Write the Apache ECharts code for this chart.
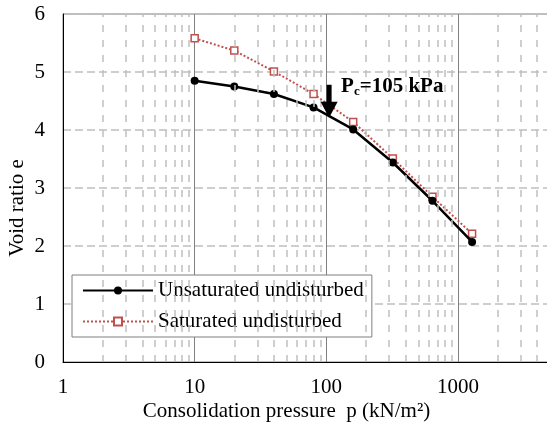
<!DOCTYPE html>
<html>
<head>
<meta charset="utf-8">
<script src="https://cdn.jsdelivr.net/npm/echarts@6/dist/echarts.min.js"></script>
<style>
  html, body { margin: 0; padding: 0; background: #fff; overflow: hidden; }
  #chart { width: 547px; height: 425px; }
</style>
</head>
<body>
<div id="chart"></div>
<script>
// Oedometer test: void ratio vs consolidation pressure (log scale)
const pressures = [10, 20, 40, 80, 160, 320, 640, 1280];
const unsaturatedE = [4.85, 4.75, 4.62, 4.39, 4.01, 3.44, 2.78, 2.07];
const saturatedE = [5.58, 5.37, 5.01, 4.62, 4.14, 3.51, 2.85, 2.21];
const seriesNames = ['Unsaturated undisturbed', 'Saturated undisturbed'];

// Preconsolidation pressure marker: pressure, arrow top e, arrow tip e
const pcValue = 105;
const pcArrow = [[pcValue, 4.78, 4.21]];

// Axis ranges
const xMin = 1, xMax = 5000;
const yMin = 0, yMax = 6, yStep = 1;

// Minor log gridlines at 2..9 within each decade
const decades = [1, 10, 100, 1000];
const minorSteps = [2, 3, 4, 5, 6, 7, 8, 9];
const minorGrid = [];
decades.forEach(d => minorSteps.forEach(m => { if (d * m < xMax) minorGrid.push(d * m); }));

const serif = "'Liberation Serif', 'Times New Roman', serif";
const red = '#c0504d';
const fs = 21;

const pairs = ys => pressures.map((p, i) => [p, ys[i]]);

const chart = echarts.init(document.getElementById('chart'));
chart.setOption({
  animation: false,
  backgroundColor: '#fff',
  grid: {
    left: 63, top: 14, right: -3, bottom: 63,
    outerBoundsMode: 'none',
    containLabel: false,
    show: true, borderColor: '#808080', borderWidth: 1
  },
  legend: {
    data: seriesNames,
    orient: 'vertical',
    left: 72, top: 275,
    backgroundColor: '#fff',
    borderColor: '#7f7f7f', borderWidth: 1,
    borderRadius: 0,
    padding: [5, 8, 5, 10],
    itemGap: 10,
    itemWidth: 70, itemHeight: 10,
    textStyle: { fontFamily: serif, fontSize: fs, color: '#000' }
  },
  xAxis: {
    type: 'log', logBase: 10, min: xMin, max: xMax,
    name: 'Consolidation pressure  p (kN/m²)',
    nameLocation: 'middle', nameGap: 39,
    nameMoveOverlap: false,
    nameTextStyle: { fontFamily: serif, fontSize: fs, color: '#000', padding: [0, 40, 0, 0] },
    axisLine: { lineStyle: { color: '#000', width: 1 } },
    axisTick: { show: false },
    axisLabel: {
      fontFamily: serif, fontSize: fs, color: '#000', margin: 15, showMaxLabel: false,
      formatter: v => String(Math.round(v))
    },
    splitLine: { show: true, lineStyle: { color: '#808080', width: 1, type: 'solid' } }
  },
  yAxis: {
    type: 'value', min: yMin, max: yMax, interval: yStep,
    name: 'Void ratio e',
    nameLocation: 'middle', nameGap: 35,
    nameMoveOverlap: false,
    nameTextStyle: { fontFamily: serif, fontSize: fs, color: '#000', padding: [0, 40, 0, 0] },
    axisLine: { show: true, lineStyle: { color: '#000', width: 1 } },
    axisTick: { show: false },
    axisLabel: { fontFamily: serif, fontSize: fs, color: '#000', margin: 18 },
    splitLine: { show: true, lineStyle: { color: '#bfbfbf', width: 1.5, type: [8, 4] } }
  },
  series: [
    {
      // minor vertical gridlines
      type: 'line', data: [], silent: true, z: 1,
      markLine: {
        silent: true, symbol: 'none', animation: false,
        label: { show: false },
        lineStyle: { color: '#c0c0c0', width: 1.5, type: [7, 8] },
        data: minorGrid.map(v => ({ xAxis: v }))
      }
    },
    {
      name: seriesNames[1],
      type: 'line',
      data: pairs(saturatedE),
      z: 3,
      symbol: 'rect', symbolSize: 7,
      lineStyle: { color: red, width: 2, type: 'dotted' },
      itemStyle: { color: '#fff', borderColor: red, borderWidth: 1.5 }
    },
    {
      name: seriesNames[0],
      type: 'line',
      data: pairs(unsaturatedE),
      z: 4,
      symbol: 'circle', symbolSize: 8,
      lineStyle: { color: '#000', width: 2.5 },
      itemStyle: { color: '#000' }
    },
    {
      type: 'custom',
      data: pcArrow,
      z: 5, silent: true,
      renderItem: (params, api) => {
        const top = api.coord([api.value(0), api.value(1)]);
        const tip = api.coord([api.value(0), api.value(2)]);
        const headH = 16, headW = 17, shaftW = 5;
        return {
          type: 'group',
          children: [
            { type: 'rect', shape: { x: top[0] - shaftW / 2, y: top[1], width: shaftW, height: tip[1] - headH - top[1] + 1 },
              style: { fill: '#000' } },
            { type: 'polygon', shape: { points: [[tip[0] - headW / 2, tip[1] - headH], [tip[0] + headW / 2, tip[1] - headH], [tip[0], tip[1]]] },
              style: { fill: '#000' } },
            { type: 'text', x: top[0] + 12, y: top[1] + 2,
              style: {
                text: '{p|P}{c|c}{p|=' + pcValue + ' kPa}',
                verticalAlign: 'middle', align: 'left',
                rich: {
                  p: { fontFamily: serif, fontSize: 21, fontWeight: 'bold', fill: '#000' },
                  c: { fontFamily: serif, fontSize: 13, fontWeight: 'bold', fill: '#000', padding: [10, 0, 0, 0] }
                }
              } }
          ]
        };
      }
    }
  ]
});
</script>
</body>
</html>
